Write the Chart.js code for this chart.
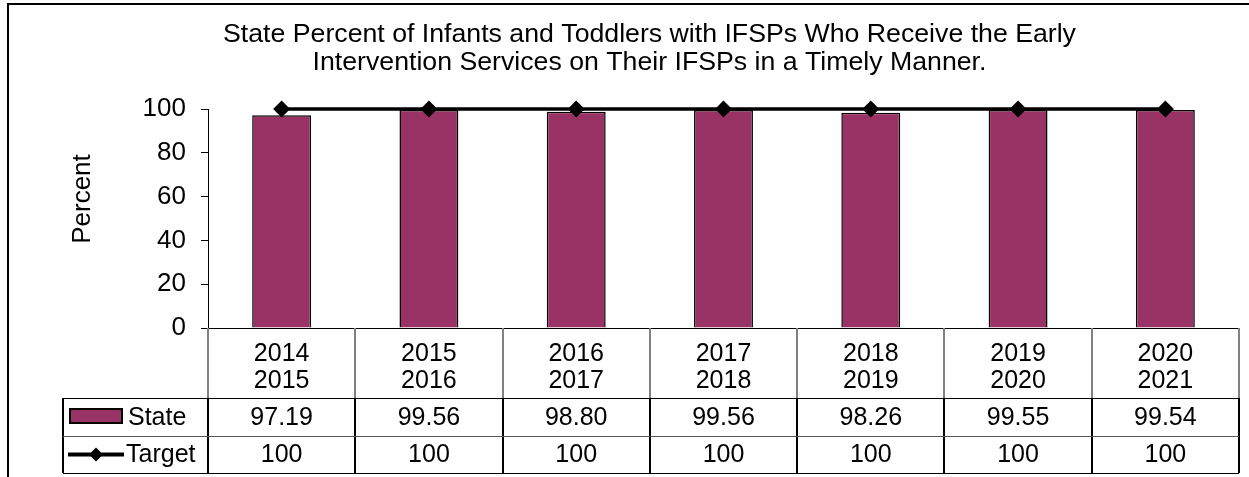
<!DOCTYPE html>
<html>
<head>
<meta charset="utf-8">
<script src="https://cdn.jsdelivr.net/npm/chart.js@4/dist/chart.umd.min.js"></script>
<style>
  html, body { margin: 0; padding: 0; background: #fff; overflow: hidden; }
  #wrap {
    position: absolute; left: 7px; top: 3px;
    width: 1283px; height: 480px;
    border: 2px solid #000;
  }
</style>
</head>
<body>
<div id="wrap"><canvas id="myChart" width="1283" height="480"></canvas></div>
<script>
// Data
const years = [
  ["2014", "2015"], ["2015", "2016"], ["2016", "2017"], ["2017", "2018"],
  ["2018", "2019"], ["2019", "2020"], ["2020", "2021"]
];
const stateValues = [97.19, 99.56, 98.80, 99.56, 98.26, 99.55, 99.54];
const targetValues = [100, 100, 100, 100, 100, 100, 100];
const titleLines = [
  "State Percent of Infants and Toddlers with IFSPs Who Receive the Early",
  "Intervention Services on Their IFSPs in a Timely Manner."
];

const FONT = "'Liberation Sans', Arial, sans-serif";
const PLUM = "#993366";

// y axis title, drawn a bit above the plot middle like the original
const yTitle = {
  id: "yTitle",
  afterDraw(chart) {
    const ctx = chart.ctx;
    ctx.save();
    ctx.translate(74, 194);
    ctx.rotate(-Math.PI / 2);
    ctx.font = "26px " + FONT;
    ctx.fillStyle = "#000";
    ctx.textAlign = "center";
    ctx.textBaseline = "middle";
    ctx.fillText("Percent", 0, 0);
    ctx.restore();
  }
};

// data table under the plot (Excel style)
const dataTable = {
  id: "dataTable",
  afterDraw(chart) {
    const {ctx, chartArea} = chart;
    const x = chart.scales.x;
    const n = years.length;
    const colW = (chartArea.right - chartArea.left) / n;
    const top = chartArea.bottom;
    const r1 = x.bottom;
    const r2 = r1 + 38;
    const r3 = r2 + 37;
    const legL = 54;

    ctx.save();
    // header verticals (grey)
    ctx.strokeStyle = "#808080";
    ctx.lineWidth = 2;
    for (let i = 0; i <= n; i++) {
      const px = Math.round(chartArea.left + i * colW);
      ctx.beginPath();
      ctx.moveTo(px, top);
      ctx.lineTo(px, r1);
      ctx.stroke();
    }
    // body verticals (black)
    ctx.strokeStyle = "#000";
    for (let i = 0; i <= n; i++) {
      const px = Math.round(chartArea.left + i * colW);
      ctx.beginPath();
      ctx.moveTo(px, r1);
      ctx.lineTo(px, r3);
      ctx.stroke();
    }
    ctx.beginPath();
    ctx.moveTo(legL, r1);
    ctx.lineTo(legL, r3);
    ctx.stroke();

    // horizontals
    ctx.lineWidth = 1;
    [r1, r2, r3].forEach(function (ry, k) {
      ctx.strokeStyle = k === 1 ? "#555" : "#000";
      ctx.beginPath();
      ctx.moveTo(legL, ry + 0.5);
      ctx.lineTo(chartArea.right, ry + 0.5);
      ctx.stroke();
    });

    // values
    ctx.fillStyle = "#000";
    ctx.font = "25px " + FONT;
    ctx.textAlign = "center";
    ctx.textBaseline = "middle";
    for (let i = 0; i < n; i++) {
      const cx = x.getPixelForValue(i);
      ctx.fillText(stateValues[i].toFixed(2), cx, (r1 + r2) / 2 + 1);
      ctx.fillText(String(targetValues[i]), cx, (r2 + r3) / 2 + 1);
    }

    // legend keys
    const m1 = (r1 + r2) / 2;
    const m2 = (r2 + r3) / 2;
    ctx.fillStyle = PLUM;
    ctx.fillRect(61, m1 - 8, 52, 14);
    ctx.lineWidth = 2;
    ctx.strokeStyle = "#000";
    ctx.strokeRect(61, m1 - 8, 52, 14);

    ctx.lineWidth = 4;
    ctx.beginPath();
    ctx.moveTo(59, m2);
    ctx.lineTo(115, m2);
    ctx.stroke();
    ctx.fillStyle = "#000";
    ctx.beginPath();
    ctx.moveTo(87, m2 - 7);
    ctx.lineTo(94, m2);
    ctx.lineTo(87, m2 + 7);
    ctx.lineTo(80, m2);
    ctx.closePath();
    ctx.fill();

    ctx.textAlign = "left";
    ctx.fillText("State", 119, m1 + 1);
    ctx.fillText("Target", 117, m2 + 1);
    ctx.restore();
  }
};

const data = {
  labels: years,
  datasets: [
    {
      type: "line",
      label: "Target",
      data: targetValues,
      borderColor: "#000",
      backgroundColor: "#000",
      borderWidth: 3.5,
      pointStyle: "rectRot",
      pointRadius: 8.5,
      pointBorderWidth: 0,
      pointBackgroundColor: "#000",
      clip: false,
      order: 0,
    },
    {
      type: "bar",
      label: "State",
      data: stateValues,
      backgroundColor: PLUM,
      borderColor: "#000",
      borderWidth: 1.5,
      barPercentage: 0.4,
      categoryPercentage: 1,
      order: 1,
    },
  ],
};

const config = {
  data: data,
  options: {
    responsive: false,
    animation: false,
    layout: {
      padding: { left: 51, right: 53, top: 0, bottom: 87 },
    },
    plugins: {
      legend: { display: false },
      tooltip: { enabled: false },
      title: {
        display: true,
        text: titleLines,
        color: "#000",
        font: { family: FONT, size: 26.7, weight: "normal", lineHeight: 28 / 26.7 },
        padding: { top: 16, bottom: 32 },
      },
    },
    scales: {
      x: {
        offset: true,
        grid: { display: false },
        border: { display: true, color: "#000", width: 1 },
        ticks: {
          color: "#000",
          font: { family: FONT, size: 25, lineHeight: 27 / 25 },
          padding: 5,
          autoSkip: false,
          maxRotation: 0,
        },
        afterFit(scale) { scale.height = 70; },
      },
      y: {
        min: 0,
        max: 100,
        ticks: {
          stepSize: 20,
          color: "#000",
          font: { family: FONT, size: 26 },
          padding: 15,
        },
        grid: {
          drawOnChartArea: false,
          drawTicks: true,
          tickLength: 7,
          color: "#000",
        },
        border: { display: true, color: "#000", width: 1 },
        afterFit(scale) { scale.width = 148; },
      },
    },
  },
  plugins: [yTitle, dataTable],
};

window.onload = function () {
  const ctx = document.getElementById("myChart");
  new Chart(ctx, config);
};
</script>
</body>
</html>
